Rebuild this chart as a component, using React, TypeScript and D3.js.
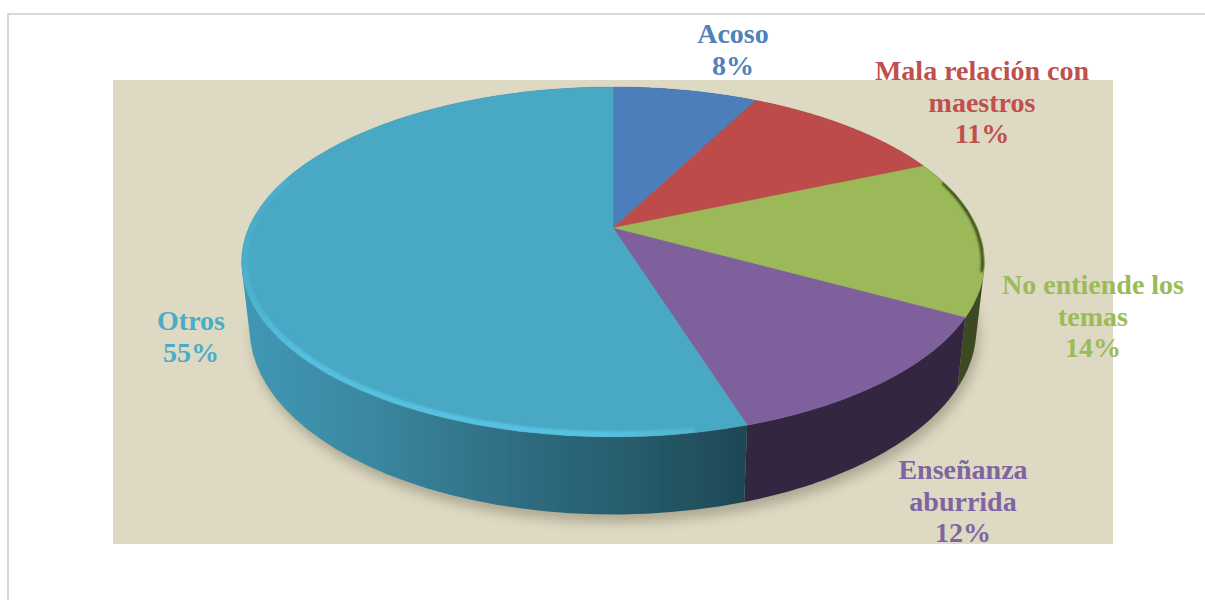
import React from "react";
import * as d3 from "d3";

const categories = ["Acoso", "Mala relación con maestros", "No entiende los temas", "Enseñanza aburrida", "Otros"];
const values = [7.6, 10.9, 14.5, 12.15, 54.85];
const percentLabels = ["8%", "11%", "14%", "12%", "55%"];
const topColors = ["#4c7ebb", "#bc4c4a", "#9bb958", "#7e609c", "#4aa8c4"];
const labelColors = ["#4f81bd", "#c0504d", "#9bbb59", "#8064a2", "#4bacc6"];
const wallColors = ["#2f4d72", "#72302e", "#3e4a20", "#33273f", "url(#tealWall)"];
const labelLines = [["Acoso"], ["Mala relación con", "maestros"], ["No entiende los", "temas"], ["Enseñanza", "aburrida"], ["Otros"]];
const labelCenters = [[733, 43], [982, 80], [1093, 294], [963, 479], [191, 330]];

const W = 1205, H = 600;
const cx = 613, cy = 228, A = 364.4, B = 168.4, K = 0.194;
const bottomCy = 293, bottomSx = 0.978, bottomSy = 1.06;

type Pt = [number, number];
const project = (theta: number, r = 1): [number, number] => {
  const u = r * Math.sin(theta), v = -r * Math.cos(theta), d = 1 - K * v;
  return [(A * u) / d, (B * v) / d];
};
const topPt = (t: number, r = 1): Pt => { const p = project(t, r); return [cx + p[0], cy + p[1]]; };
const botPt = (t: number): Pt => { const p = project(t); return [cx + p[0] * bottomSx, bottomCy + p[1] * bottomSy]; };
const sample = (a: number, b: number, n = 60) => d3.range(0, n + 1).map((i) => a + ((b - a) * i) / n);
const line = d3.line<Pt>().x((d) => d[0]).y((d) => d[1]);

const arcs = d3.pie<number>().sort(null)(values);
const TAU = Math.PI * 2;

// One path per slice wall, made of quads that all wind the same way, so they add up under nonzero fill.
const wallPath = (a: number, b: number) => {
  const ts = sample(a, b);
  return d3.pairs(ts).map(([t0, t1]) => {
    const quad: Pt[] = [topPt(t0), topPt(t1), botPt(t1), botPt(t0)];
    return line(d3.polygonArea(quad) < 0 ? quad.slice().reverse() : quad) + "Z";
  }).join("");
};

export default function App() {
  const fontFamily = "'Liberation Serif', serif";
  const rimTeal = sample(arcs[4].startAngle + 0.12, TAU * 0.8).map((t) => topPt(t, 0.996));
  const rimGreen = sample(arcs[2].startAngle + 0.12, arcs[2].endAngle - 0.25).map((t) => topPt(t, 0.995));
  return (
    <svg width={W} height={H} style={{ position: "absolute", left: 0, top: 0 }}>
      <defs>
        <linearGradient id="tealWall" gradientUnits="userSpaceOnUse" x1={242} x2={748} y1={0} y2={0}>
          <stop offset="0" stopColor="#4298b4" />
          <stop offset="0.25" stopColor="#3a88a1" />
          <stop offset="0.55" stopColor="#2f6c81" />
          <stop offset="0.8" stopColor="#255a69" />
          <stop offset="1" stopColor="#1e4753" />
        </linearGradient>
        <linearGradient id="rimFade" gradientUnits="userSpaceOnUse" x1={748} x2={240} y1={440} y2={200}>
          <stop offset="0" stopColor="#54bddc" stopOpacity="0.3" />
          <stop offset="0.25" stopColor="#58c2e2" stopOpacity="1" />
          <stop offset="0.8" stopColor="#54bfe0" stopOpacity="1" />
          <stop offset="1" stopColor="#54bfe0" stopOpacity="0" />
        </linearGradient>
        <filter id="shadowBlur" x="-10%" y="-10%" width="120%" height="120%"><feGaussianBlur stdDeviation="6" /></filter>
        <filter id="softEdge" x="-5%" y="-5%" width="110%" height="110%"><feGaussianBlur stdDeviation="0.7" /></filter>
        <filter id="rimBlur" x="-5%" y="-5%" width="110%" height="110%"><feGaussianBlur stdDeviation="1.1" /></filter>
        <clipPath id="plotClip"><rect x={113} y={80} width={1000} height={464} /></clipPath>
        <clipPath id="topClip"><path d={line(sample(0, TAU).map((t) => topPt(t)))! + "Z"} /></clipPath>
      </defs>
      <rect width={W} height={H} fill="#ffffff" />
      <path d={`M8,${H}V14H${W}`} fill="none" stroke="#d9d9d9" strokeWidth={2} />
      <rect x={113} y={80} width={1000} height={464} fill="#ded9c3" />

      <g clipPath="url(#plotClip)">
        <path
          d={line(sample(0, TAU).map((t) => { const p = botPt(t); return [p[0] + 3, p[1] + 8] as Pt; }))! + "Z"}
          fill="#4a4630" opacity={0.33} filter="url(#shadowBlur)"
        />
      </g>

      <g filter="url(#softEdge)">
        {arcs.map((a, i) => (
          <path key={categories[i]} d={wallPath(a.startAngle, a.endAngle)} fill={wallColors[i]} />
        ))}
        {arcs.map((a, i) => {
          const pts: Pt[] = [[cx, cy] as Pt].concat(sample(a.startAngle, a.endAngle).map((t) => topPt(t)));
          return <path key={categories[i]} d={line(pts)! + "Z"} fill={topColors[i]} stroke={topColors[i]} strokeWidth={0.4} />;
        })}
      </g>

      <g clipPath="url(#topClip)">
        <path d={line(rimTeal)!} fill="none" stroke="url(#rimFade)" strokeWidth={9} filter="url(#rimBlur)" />
        <path d={line(rimGreen)!} fill="none" stroke="#37441c" strokeWidth={3} filter="url(#rimBlur)" />
      </g>

      {categories.map((c, i) => {
        const lines = labelLines[i].concat(percentLabels[i]);
        const [x, y] = labelCenters[i];
        return (
          <text key={c} fontFamily={fontFamily} fontWeight={700} fontSize={28} fill={labelColors[i]} textAnchor="middle">
            {lines.map((l, j) => (
              <tspan key={l} x={x} y={y + j * 31.7}>{l}</tspan>
            ))}
          </text>
        );
      })}
    </svg>
  );
}
